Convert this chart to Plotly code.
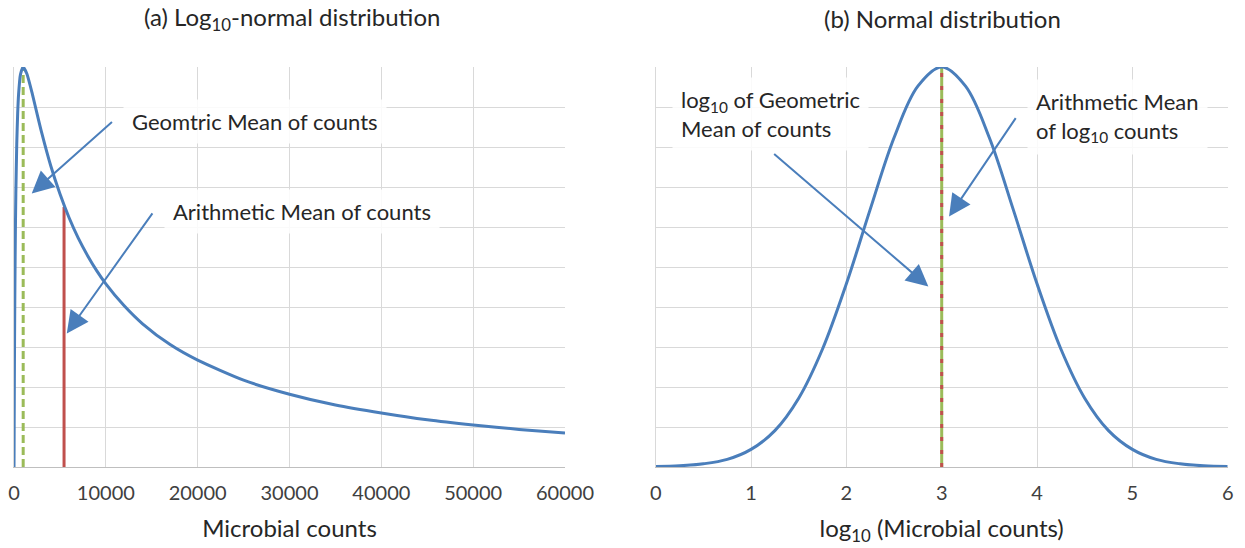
import plotly.graph_objects as go

# Panel (a): density of counts on a linear axis (relative height, 0-10 scale)
counts_x = [0, 10, 20, 30, 50, 75, 100, 150, 200, 300, 400, 500, 700, 1000, 1400,
            2000, 2500, 3000, 4000, 5000, 6000, 7000, 8000, 9000, 10000, 12000,
            14000, 17000, 20000, 25000, 30000, 35000, 40000, 45000, 50000, 55000, 60000]
counts_y = [0.0, 0.44, 1.05, 1.63, 2.67, 3.72, 4.58, 5.89, 6.83, 8.08, 8.84, 9.32, 9.81, 10.0, 9.83,
            9.32, 8.84, 8.37, 7.53, 6.83, 6.23, 5.72, 5.29, 4.91, 4.58, 4.03,
            3.58, 3.06, 2.67, 2.17, 1.82, 1.55, 1.35, 1.18, 1.05, 0.94, 0.85]

# Panel (b): the same data on a log10 axis
log_x = [0, 0.25, 0.5, 0.75, 1.0, 1.25, 1.5, 1.75, 2.0, 2.25, 2.5, 2.75, 3.0,
         3.25, 3.5, 3.75, 4.0, 4.25, 4.5, 4.75, 5.0, 5.25, 5.5, 5.75, 6.0]
log_y = [0.01, 0.03, 0.08, 0.19, 0.44, 0.91, 1.72, 2.95, 4.58, 6.44, 8.23, 9.52, 10.0,
         9.52, 8.23, 6.44, 4.58, 2.95, 1.72, 0.91, 0.44, 0.19, 0.08, 0.03, 0.01]

# Means
geo_mean = 1000
geo_mean_height = 10.0
arith_mean = 5450
arith_mean_height = 6.5
log_mean = 3.0
log_mean_height = 10.0

count_ticks = [0, 10000, 20000, 30000, 40000, 50000, 60000]
log_ticks = [0, 1, 2, 3, 4, 5, 6]

BLUE = "#4a7ebb"
GREEN = "#9bbb59"
RED = "#c0504d"
GRID = "#d9d9d9"
FONT = "Lato"

fig = go.Figure()

fig.add_trace(go.Scatter(x=[geo_mean, geo_mean], y=[0, geo_mean_height], mode="lines",
                         line=dict(color=GREEN, width=3, dash="8px,4px"),
                         xaxis="x", yaxis="y", showlegend=False))
fig.add_trace(go.Scatter(x=[arith_mean, arith_mean], y=[0, arith_mean_height], mode="lines",
                         line=dict(color=RED, width=3),
                         xaxis="x", yaxis="y", showlegend=False))
fig.add_trace(go.Scatter(x=counts_x, y=counts_y, mode="lines",
                         line=dict(color=BLUE, width=3, shape="spline", smoothing=0.6),
                         xaxis="x", yaxis="y", showlegend=False))

fig.add_trace(go.Scatter(x=[log_mean, log_mean], y=[0, log_mean_height], mode="lines",
                         line=dict(color=GREEN, width=3),
                         xaxis="x2", yaxis="y2", showlegend=False))
fig.add_trace(go.Scatter(x=[log_mean, log_mean], y=[0, log_mean_height], mode="lines",
                         line=dict(color=RED, width=3, dash="4px,9px"),
                         xaxis="x2", yaxis="y2", showlegend=False))
fig.add_trace(go.Scatter(x=log_x, y=log_y, mode="lines",
                         line=dict(color=BLUE, width=3, shape="spline", smoothing=1),
                         xaxis="x2", yaxis="y2", showlegend=False))

W, H = 1245, 548
y_dom = [1 - 467 / H, 1 - 67 / H]

axis_common = dict(showgrid=True, gridcolor=GRID, gridwidth=1, zeroline=False,
                   tickfont=dict(family=FONT, size=20, color="#404040"),
                   ticks="", ticklabelstandoff=8, automargin=False,
                   showline=True, linecolor="#bfbfbf", linewidth=1)
yaxis_common = dict(range=[0, 10], dtick=1, showgrid=True, gridcolor=GRID, gridwidth=1,
                    zeroline=False, showticklabels=False, ticks="", automargin=False,
                    showline=True, linecolor=GRID, linewidth=1, fixedrange=True)
title_font = dict(family=FONT, size=24, color="#262626")

fig.update_layout(
    width=W, height=H,
    margin=dict(l=0, r=0, t=0, b=0, autoexpand=False),
    paper_bgcolor="white", plot_bgcolor="white",
    font=dict(family=FONT, color="#262626"),
    xaxis=dict(domain=[14 / W, 565 / W], range=[0, 60000], tickvals=count_ticks,
               ticktext=[str(v) for v in count_ticks], anchor="y",
               title=dict(text="Microbial counts", font=title_font, standoff=17),
               **axis_common),
    yaxis=dict(domain=y_dom, anchor="x", **yaxis_common),
    xaxis2=dict(domain=[655.7 / W, 1227.7 / W], range=[0, 6], tickvals=log_ticks,
                ticktext=[str(v) for v in log_ticks], anchor="y2",
                title=dict(text="log<sub>10</sub> (Microbial counts)", font=title_font, standoff=17),
                **axis_common),
    yaxis2=dict(domain=y_dom, anchor="x2", **yaxis_common),
)

annotations = []

# Panel titles
head_font = dict(family=FONT, size=24, color="#262626")
annotations.append(dict(text="(a) Log<sub>10</sub>-normal distribution", xref="paper", yref="paper",
                        x=292 / W, y=1 - 18 / H, xanchor="center", yanchor="middle",
                        showarrow=False, font=head_font))
annotations.append(dict(text="(b) Normal distribution", xref="paper", yref="paper",
                        x=942 / W, y=1 - 18 / H, xanchor="center", yanchor="middle",
                        showarrow=False, font=head_font))

label_font = dict(family=FONT, size=22, color="#262626")
box = dict(bgcolor="rgba(255,255,255,0.85)", borderpad=8)

# Panel (a) labels
annotations.append(dict(text="Geomtric Mean of counts", xref="x", yref="y", x=11900, y=8.63,
                        xanchor="left", yanchor="middle", showarrow=False, font=label_font, **box))
annotations.append(dict(text="Arithmetic Mean of counts", xref="x", yref="y", x=16300, y=6.38,
                        xanchor="left", yanchor="middle", showarrow=False, font=label_font, **box))
# Panel (b) labels
annotations.append(dict(text="log<sub>10</sub> of Geometric<br>Mean of counts", xref="x2", yref="y2",
                        x=0.17, y=8.83, xanchor="left", yanchor="middle", align="left",
                        showarrow=False, font=label_font, **box))
annotations.append(dict(text="Arithmetic Mean<br>of log<sub>10</sub> counts", xref="x2", yref="y2",
                        x=3.895, y=8.75, xanchor="left", yanchor="middle", align="left",
                        showarrow=False, font=label_font, **box))

# Pointer arrows: (head_x, head_y, tail_x, tail_y, axis suffix)
arrows = [
    (1930, 6.84, 10830, 8.66, ""),
    (5750, 3.34, 15190, 6.38, ""),
    (2.86, 4.51, 1.227, 7.86, "2"),
    (3.077, 6.26, 3.787, 8.76, "2"),
]
for hx, hy, tx, ty, s in arrows:
    annotations.append(dict(text="", x=hx, y=hy, ax=tx, ay=ty,
                            xref="x" + s, yref="y" + s, axref="x" + s, ayref="y" + s,
                            showarrow=True, arrowhead=2, arrowsize=2.2, arrowwidth=2,
                            arrowcolor=BLUE, standoff=0, startstandoff=0))

fig.update_layout(annotations=annotations)

fig.write_html("out.html")
